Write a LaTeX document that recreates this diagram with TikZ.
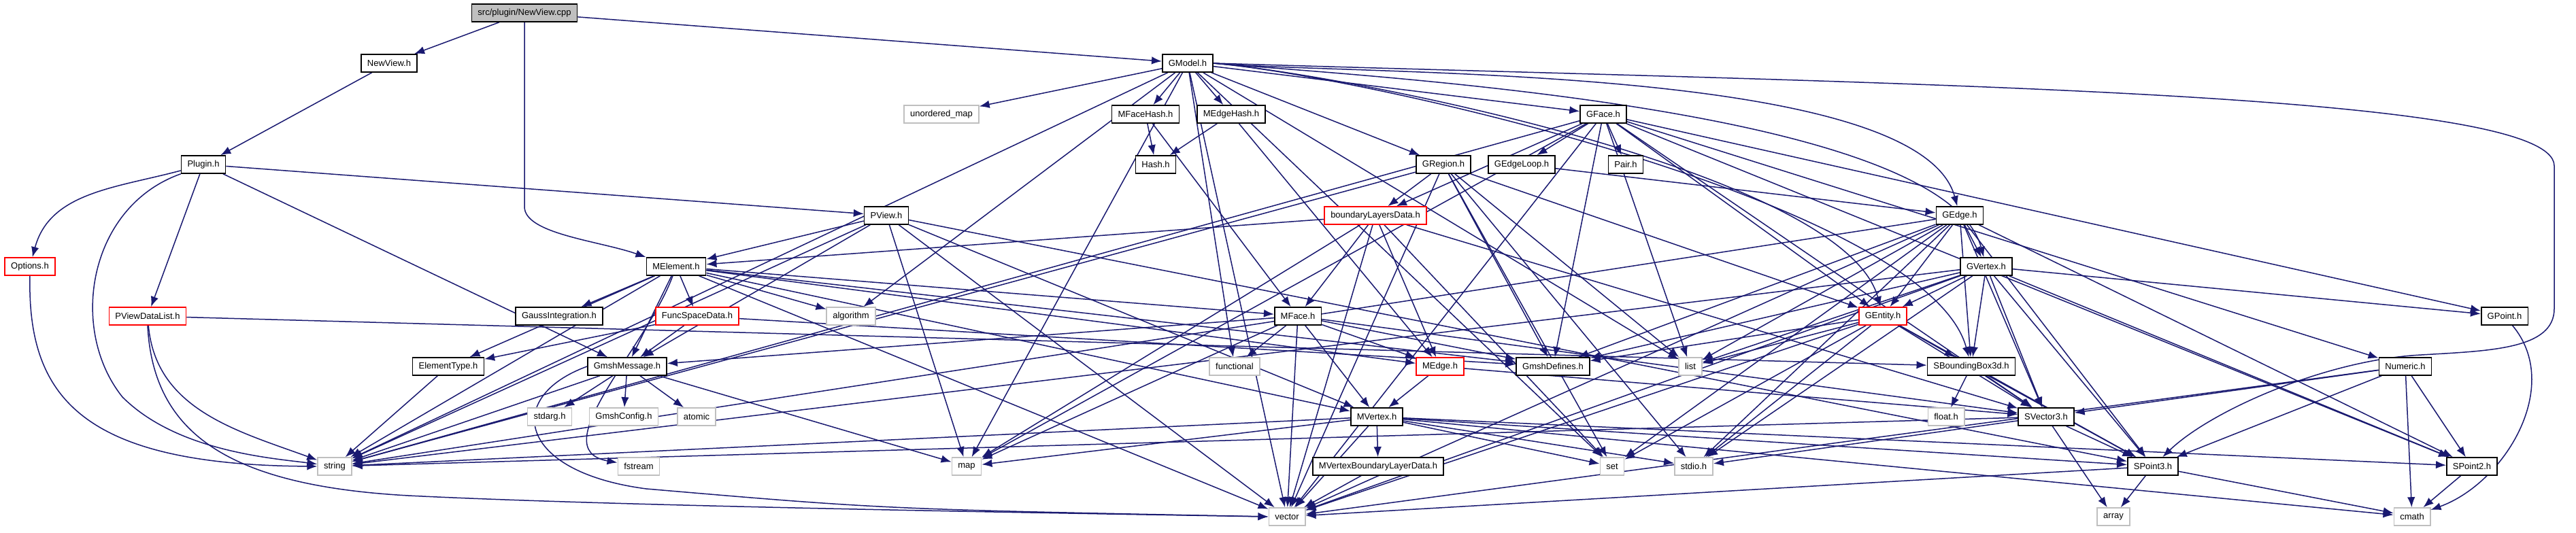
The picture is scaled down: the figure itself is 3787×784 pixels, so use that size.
\documentclass[tikz,border=0pt]{standalone}
\usepackage{fontspec}
\setmainfont{Liberation Sans}
\usepackage{xcolor}
\usetikzlibrary{arrows.meta,backgrounds}
\definecolor{depblue}{HTML}{191970}
\definecolor{sysgray}{HTML}{BFBFBF}

\begin{document}
\begin{tikzpicture}[x=0.2pt,y=0.2pt,font=\fontsize{2.6}{3}\selectfont,
  hdr/.style={draw=black, line width=0.32pt, fill=white, minimum height=5.2pt, inner xsep=1.8pt, inner ysep=0.4pt},
  sys/.style={hdr, draw=sysgray},
  cut/.style={hdr, draw=red},
  root/.style={hdr, fill=sysgray},
  dep/.style={draw=depblue, line width=0.3pt, -{Latex[length=3pt,width=2.3pt]}}]
\useasboundingbox (0,0) rectangle (3787,784);

% ---------- upper rows ----------
\node[root] (cpp) at (771,765) {src/plugin/NewView.cpp};
\node[hdr] (newview) at (572,691) {NewView.h};
\node[hdr] (gmodel) at (1746,691) {GModel.h};
\node[hdr] (plugin) at (299,542) {Plugin.h};
\node[sys] (umap) at (1384,616) {unordered\_map};
\node[hdr] (mfacehash) at (1684,616) {MFaceHash.h};
\node[hdr] (medgehash) at (1810,616) {MEdgeHash.h};
\node[hdr] (gface) at (2357,616) {GFace.h};
\node[hdr] (hash) at (1699,542) {Hash.h};
\node[hdr] (gregion) at (2122,542) {GRegion.h};
\node[hdr] (gedgeloop) at (2237,542) {GEdgeLoop.h};
\node[hdr] (pair) at (2390,542) {Pair.h};
\node[hdr] (pview) at (1303,467) {PView.h};
\node[cut] (bldata) at (2022,467) {boundaryLayersData.h};
\node[hdr] (gedge) at (2881,467) {GEdge.h};

% ---------- middle rows ----------
\node[cut] (options) at (44,392) {Options.h};
\node[hdr] (melem) at (994,392) {MElement.h};
\node[hdr] (gvertex) at (2920,392) {GVertex.h};
\node[cut] (pvdlist) at (217,319) {PViewDataList.h};
\node[hdr] (gauss) at (822,319) {GaussIntegration.h};
\node[cut] (fsdata) at (1025,319) {FuncSpaceData.h};
\node[sys] (algo) at (1251,319) {algorithm};
\node[hdr] (mface) at (1908,319) {MFace.h};
\node[cut] (gentity) at (2768,319) {GEntity.h};
\node[hdr] (gpoint) at (3682,319) {GPoint.h};
\node[hdr] (eltype) at (659,245) {ElementType.h};
\node[hdr] (gmshmsg) at (922,245) {GmshMessage.h};
\node[sys] (functional) at (1815,245) {functional};
\node[cut] (medge) at (2117,245) {MEdge.h};
\node[hdr] (gdefs) at (2283,245) {GmshDefines.h};
\node[sys] (list) at (2485,245) {list};
\node[hdr] (sbbox) at (2898,245) {SBoundingBox3d.h};
\node[hdr] (numeric) at (3536,245) {Numeric.h};

% ---------- lower rows ----------
\node[sys] (stdarg) at (808,171) {stdarg.h};
\node[sys] (gconfig) at (917,171) {GmshConfig.h};
\node[sys] (atomic) at (1024,171) {atomic};
\node[hdr] (mvertex) at (2024,171) {MVertex.h};
\node[sys] (floath) at (2861,171) {float.h};
\node[hdr] (svector) at (3008,171) {SVector3.h};
\node[sys] (string) at (492,98) {string};
\node[sys] (fstream) at (939,98) {fstream};
\node[sys] (map) at (1421,98) {map};
\node[hdr] (mvbld) at (2026,98) {MVertexBoundaryLayerData.h};
\node[sys] (set) at (2370,98) {set};
\node[sys] (stdio) at (2490,98) {stdio.h};
\node[hdr] (spoint3) at (3165,98) {SPoint3.h};
\node[hdr] (spoint2) at (3634,98) {SPoint2.h};
\node[sys] (vector) at (1892,24) {vector};
\node[sys] (array) at (3107,24) {array};
\node[sys] (cmath) at (3546,24) {cmath};

% ---------- include edges ----------
\begin{pgfonlayer}{background}
\draw[dep] (cpp) -- (newview);
\draw[dep] (cpp) -- (gmodel);
\draw[dep] (cpp.south) -- (771,480) .. controls (771,440) and (880,430) .. (melem.north west);
\draw[dep] (newview) -- (plugin);

\draw[dep] (plugin) to[out=195,in=75] (options);
\draw[dep] (plugin.south west) .. controls (130,480) and (100,300) .. (180,200)
  .. controls (260,120) and (400,110) .. (string);
\foreach \t in {pvdlist,gmshmsg,pview}{
  \draw[dep] (plugin) -- (\t);}
\draw[dep] (options.south) .. controls (40,200) and (120,100) .. (string.west);
\draw[dep] (pvdlist) to[out=-85,in=160] (string);
\draw[dep] (pvdlist.south) .. controls (225,150) and (330,70) .. (600,55)
  .. controls (900,40) and (1500,30) .. (vector.west);
\draw[dep] (pvdlist) -- (sbbox);
\foreach \t in {melem,gmshmsg,string,map,vector,mvertex,spoint3}{
  \draw[dep] (pview) -- (\t);}

\foreach \t in {umap,mfacehash,medgehash,gface,gregion,string,map,set,vector,algo,functional,list}{
  \draw[dep] (gmodel) -- (\t);}
\foreach \t in {gedge,gvertex,gentity,sbbox}{
  \draw[dep] (gmodel.east) to[out=-5,in=105,looseness=0.5] (\t);}
\draw[dep] (gmodel.east) .. controls (2800,660) and (3755,650) .. (3755,540)
  -- (3755,330) .. controls (3755,270) and (3660,268) .. (3560,262)
  .. controls (3420,255) and (3250,180) .. (spoint3);

\foreach \t in {hash,mface}{\draw[dep] (mfacehash) -- (\t);}
\foreach \t in {hash,medge}{\draw[dep] (medgehash) -- (\t);}
\foreach \t in {gedgeloop,pair,bldata,gentity,gpoint,numeric,spoint2,svector,gdefs,list,string,vector,map}{
  \draw[dep] (gface) -- (\t);}
\foreach \t in {bldata,gentity,gdefs,list,string,vector,stdio,set}{
  \draw[dep] (gregion) -- (\t);}
\draw[dep] (gedgeloop) -- (gedge);
\foreach \t in {gentity,gvertex,gdefs,svector,spoint3,spoint2,sbbox,list,string,vector,stdio,set}{
  \draw[dep] (gedge) -- (\t);}
\foreach \t in {gentity,gpoint,spoint2,spoint3,svector,gdefs,list,string,vector,stdio,sbbox}{
  \draw[dep] (gvertex) -- (\t);}
\foreach \t in {list,vector,set,stdio,gdefs,svector,sbbox,spoint3}{
  \draw[dep] (gentity) -- (\t);}
\foreach \t in {melem,medge,mface,svector,map,set,vector}{
  \draw[dep] (bldata) -- (\t);}

\foreach \t in {string,algo,gauss,fsdata,eltype,gmshmsg,mvertex,medge,mface,gdefs,vector}{
  \draw[dep] (melem) -- (\t);}
\draw[dep] (melem) to[out=-110,in=170] (fstream);
\foreach \t in {gmshmsg,eltype,gdefs}{\draw[dep] (fsdata) -- (\t);}
\draw[dep] (eltype) -- (string);
\foreach \t in {stdarg,gconfig,atomic,string,map}{\draw[dep] (gmshmsg) -- (\t);}
\draw[dep] (gmshmsg.west) .. controls (740,200) and (760,90) .. (950,65)
  .. controls (1300,35) .. (vector.west);
\foreach \t in {functional,vector,map,mvertex,medge,svector,gmshmsg,gdefs}{
  \draw[dep] (mface) -- (\t);}
\foreach \t in {mvertex,svector}{\draw[dep] (medge) -- (\t);}
\foreach \t in {mvbld,set,stdio,spoint2,spoint3,map,string,cmath,vector}{
  \draw[dep] (mvertex) -- (\t);}
\draw[dep] (mvbld) -- (vector);

\foreach \t in {floath,spoint3,svector}{\draw[dep] (sbbox) -- (\t);}
\foreach \t in {spoint3,array,string,stdio}{\draw[dep] (svector) -- (\t);}
\foreach \t in {array,cmath,vector}{\draw[dep] (spoint3) -- (\t);}
\draw[dep] (spoint2) -- (cmath);
\draw[dep] (gpoint) to[out=-50,in=20] (cmath);
\foreach \t in {svector,spoint3,spoint2,cmath,vector}{
  \draw[dep] (numeric) -- (\t);}
\end{pgfonlayer}
\end{tikzpicture}
\end{document}
